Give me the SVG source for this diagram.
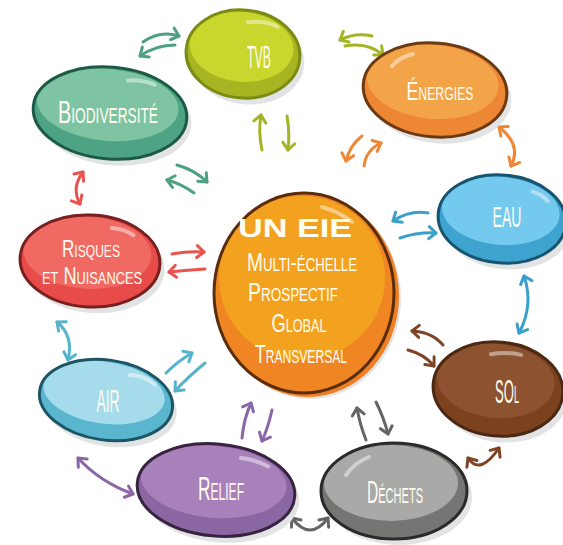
<svg xmlns="http://www.w3.org/2000/svg" width="563" height="545" viewBox="0 0 563 545">
<style>
.shadow{fill:#e2e3e4}
.ol{fill:none;stroke-width:3}
.hl{fill:none;stroke:#ffffff;stroke-opacity:0.45;stroke-width:4;stroke-linecap:round}
.lbl{font-family:"Liberation Sans",Arial,sans-serif;font-variant:small-caps;fill:#fffdf2;text-anchor:middle}
.big{font-family:"Liberation Sans",Arial,sans-serif;font-weight:bold;fill:#fffdf2;text-anchor:middle}
.a{fill:none;stroke-width:3;stroke-linecap:round}
</style>
<defs>
<marker id="h-teal" viewBox="-10 -10 20 20" markerWidth="20" markerHeight="20" markerUnits="userSpaceOnUse" orient="auto-start-reverse"><path d="M-7,-6 L0,0 L-7,6" fill="none" stroke="#4ca181" stroke-width="3" stroke-linecap="round" stroke-linejoin="round"/></marker>
<marker id="h-olive" viewBox="-10 -10 20 20" markerWidth="20" markerHeight="20" markerUnits="userSpaceOnUse" orient="auto-start-reverse"><path d="M-7,-6 L0,0 L-7,6" fill="none" stroke="#a4b424" stroke-width="3" stroke-linecap="round" stroke-linejoin="round"/></marker>
<marker id="h-orange" viewBox="-10 -10 20 20" markerWidth="20" markerHeight="20" markerUnits="userSpaceOnUse" orient="auto-start-reverse"><path d="M-7,-6 L0,0 L-7,6" fill="none" stroke="#ee8634" stroke-width="3" stroke-linecap="round" stroke-linejoin="round"/></marker>
<marker id="h-blue" viewBox="-10 -10 20 20" markerWidth="20" markerHeight="20" markerUnits="userSpaceOnUse" orient="auto-start-reverse"><path d="M-7,-6 L0,0 L-7,6" fill="none" stroke="#3aa0cb" stroke-width="3" stroke-linecap="round" stroke-linejoin="round"/></marker>
<marker id="h-brown" viewBox="-10 -10 20 20" markerWidth="20" markerHeight="20" markerUnits="userSpaceOnUse" orient="auto-start-reverse"><path d="M-7,-6 L0,0 L-7,6" fill="none" stroke="#7d4426" stroke-width="3" stroke-linecap="round" stroke-linejoin="round"/></marker>
<marker id="h-gray" viewBox="-10 -10 20 20" markerWidth="20" markerHeight="20" markerUnits="userSpaceOnUse" orient="auto-start-reverse"><path d="M-7,-6 L0,0 L-7,6" fill="none" stroke="#646462" stroke-width="3" stroke-linecap="round" stroke-linejoin="round"/></marker>
<marker id="h-purple" viewBox="-10 -10 20 20" markerWidth="20" markerHeight="20" markerUnits="userSpaceOnUse" orient="auto-start-reverse"><path d="M-7,-6 L0,0 L-7,6" fill="none" stroke="#8a66a6" stroke-width="3" stroke-linecap="round" stroke-linejoin="round"/></marker>
<marker id="h-lblue" viewBox="-10 -10 20 20" markerWidth="20" markerHeight="20" markerUnits="userSpaceOnUse" orient="auto-start-reverse"><path d="M-7,-6 L0,0 L-7,6" fill="none" stroke="#55b4cb" stroke-width="3" stroke-linecap="round" stroke-linejoin="round"/></marker>
<marker id="h-red" viewBox="-10 -10 20 20" markerWidth="20" markerHeight="20" markerUnits="userSpaceOnUse" orient="auto-start-reverse"><path d="M-7,-6 L0,0 L-7,6" fill="none" stroke="#e9534e" stroke-width="3" stroke-linecap="round" stroke-linejoin="round"/></marker>
</defs>
<rect width="563" height="545" fill="#ffffff"/>

<g id="connectors">
<path class="a" stroke="#4ca181" marker-end="url(#h-teal)" d="M143,42 Q160,30 179,36"/>
<path class="a" stroke="#4ca181" marker-end="url(#h-teal)" d="M175,45 Q156,45 140,56"/>
<path class="a" stroke="#a4b424" marker-end="url(#h-olive)" d="M262,150 Q258,132 261,115"/>
<path class="a" stroke="#a4b424" marker-end="url(#h-olive)" d="M287,116 Q290,133 288,150"/>
<path class="a" stroke="#a4b424" marker-end="url(#h-olive)" d="M372,36 Q355,32 340,40"/>
<path class="a" stroke="#a4b424" marker-end="url(#h-olive)" d="M345,46 Q368,42 383,55"/>
<path class="a" stroke="#ee8634" marker-end="url(#h-orange)" d="M364,166 Q366,150 381,143"/>
<path class="a" stroke="#ee8634" marker-end="url(#h-orange)" d="M362,136 Q350,145 346,161"/>
<path class="a" stroke="#ee8634" marker-start="url(#h-orange)" marker-end="url(#h-orange)" d="M499,127 Q522,145 511,166"/>
<path class="a" stroke="#3aa0cb" marker-end="url(#h-blue)" d="M428,213 Q410,210 393,221"/>
<path class="a" stroke="#3aa0cb" marker-end="url(#h-blue)" d="M400,238 Q418,232 436,233"/>
<path class="a" stroke="#3aa0cb" marker-start="url(#h-blue)" marker-end="url(#h-blue)" d="M524,276 Q534,305 519,333"/>
<path class="a" stroke="#7d4426" marker-end="url(#h-brown)" d="M443,345 Q432,332 412,331"/>
<path class="a" stroke="#7d4426" marker-end="url(#h-brown)" d="M408,350 Q424,354 434,366"/>
<path class="a" stroke="#7d4426" marker-start="url(#h-brown)" marker-end="url(#h-brown)" d="M468,458 Q480,476 499,448"/>
<path class="a" stroke="#646462" marker-start="url(#h-gray)" marker-end="url(#h-gray)" d="M292,518 Q310,542 328,518"/>
<path class="a" stroke="#646462" marker-end="url(#h-gray)" d="M366,440 Q360,425 357,408"/>
<path class="a" stroke="#646462" marker-end="url(#h-gray)" d="M376,402 Q384,418 388,434"/>
<path class="a" stroke="#8a66a6" marker-end="url(#h-purple)" d="M242,438 Q244,418 251,403"/>
<path class="a" stroke="#8a66a6" marker-end="url(#h-purple)" d="M272,410 Q268,428 262,441"/>
<path class="a" stroke="#8a66a6" marker-start="url(#h-purple)" marker-end="url(#h-purple)" d="M78,458 Q100,482 133,494"/>
<path class="a" stroke="#55b4cb" marker-end="url(#h-lblue)" d="M166,373 Q178,361 192,353"/>
<path class="a" stroke="#55b4cb" marker-end="url(#h-lblue)" d="M205,363 Q188,377 175,391"/>
<path class="a" stroke="#55b4cb" marker-start="url(#h-lblue)" marker-end="url(#h-lblue)" d="M57,322 Q74,336 68,360"/>
<path class="a" stroke="#e9534e" marker-end="url(#h-red)" d="M172,254 Q188,251 204,252"/>
<path class="a" stroke="#e9534e" marker-end="url(#h-red)" d="M205,269 Q188,270 169,272"/>
<path class="a" stroke="#e9534e" marker-start="url(#h-red)" marker-end="url(#h-red)" d="M83,172 Q71,188 80,204"/>
<path class="a" stroke="#4ca181" marker-end="url(#h-teal)" d="M177,165 Q195,170 207,182"/>
<path class="a" stroke="#4ca181" marker-end="url(#h-teal)" d="M194,193 Q180,183 167,180"/>
</g>

<g id="n-center">
<ellipse class="shadow" cx="310" cy="298" rx="91" ry="101"/>
<ellipse cx="308" cy="296" rx="91" ry="101" fill="#ee7f22"/>
<ellipse cx="304" cy="293" rx="90" ry="100" fill="#f08623"/>
<ellipse cx="302" cy="278" rx="83" ry="82" fill="#f3a21f"/>
<ellipse cx="304" cy="293" rx="90" ry="100" class="ol" stroke="#5a2c0c" stroke-width="3.5"/>
<path class="hl" d="M322,207 Q340,212 352,222"/>
<text class="big" x="295" y="237" font-size="26" textLength="114" lengthAdjust="spacingAndGlyphs">UN EIE</text>
<text class="lbl" x="302" y="271" font-size="26" textLength="110" lengthAdjust="spacingAndGlyphs">Multi-échelle</text>
<text class="lbl" x="293" y="301" font-size="26" textLength="90" lengthAdjust="spacingAndGlyphs">Prospectif</text>
<text class="lbl" x="299" y="332" font-size="26" textLength="55" lengthAdjust="spacingAndGlyphs">Global</text>
<text class="lbl" x="301" y="363" font-size="26" textLength="92" lengthAdjust="spacingAndGlyphs">Transversal</text>
</g>

<g id="n-tvb">
<g transform="translate(243,54) rotate(5)">
<ellipse class="shadow" cx="5" cy="6" rx="57" ry="44"/>
<ellipse rx="57" ry="44" fill="#a6b521"/>
<ellipse cx="-2" cy="-7" rx="52" ry="35" fill="#c8d62e"/>
<ellipse rx="57" ry="44" class="ol" stroke="#7c8b14"/>
<path class="hl" d="M2,-32 Q20,-36 32,-30"/>
</g>
<text class="lbl" x="259" y="68" font-size="32" textLength="24" lengthAdjust="spacingAndGlyphs">TVB</text>
</g>

<g id="n-energies">
<g transform="translate(435,90) rotate(5)">
<ellipse class="shadow" cx="5" cy="6" rx="72" ry="47"/>
<ellipse rx="72" ry="47" fill="#ee8733"/>
<ellipse cx="-3" cy="-8" rx="66" ry="37" fill="#f3a449"/>
<ellipse rx="72" ry="47" class="ol" stroke="#6b3a12"/>
<path class="hl" d="M-45,-20 Q-38,-30 -25,-34"/>
</g>
<text class="lbl" x="440" y="100" font-size="26" textLength="67" lengthAdjust="spacingAndGlyphs">Énergies</text>
</g>

<g id="n-eau">
<g transform="translate(502,219) rotate(5)">
<ellipse class="shadow" cx="5" cy="6" rx="64" ry="44"/>
<ellipse rx="64" ry="44" fill="#3ea3cf"/>
<ellipse cx="-2" cy="-8" rx="59" ry="34" fill="#74c9ee"/>
<ellipse rx="64" ry="44" class="ol" stroke="#17546f"/>
<path class="hl" d="M28,-30 Q38,-28 44,-22"/>
</g>
<text class="lbl" x="507" y="227" font-size="30" textLength="29" lengthAdjust="spacingAndGlyphs">EAU</text>
</g>

<g id="n-biodiversite">
<g transform="translate(110,113) rotate(5)">
<ellipse class="shadow" cx="5" cy="6" rx="77" ry="46"/>
<ellipse rx="77" ry="46" fill="#4da383"/>
<ellipse cx="-3" cy="-8" rx="71" ry="36" fill="#7fc4a2"/>
<ellipse rx="77" ry="46" class="ol" stroke="#1d5a45"/>
<path class="hl" d="M15,-34 Q30,-36 42,-32"/>
</g>
<text class="lbl" x="108" y="123" font-size="32" textLength="100" lengthAdjust="spacingAndGlyphs">Biodiversité</text>
</g>

<g id="n-risques">
<g transform="translate(90,261) rotate(3)">
<ellipse class="shadow" cx="5" cy="6" rx="70" ry="46"/>
<ellipse rx="70" ry="46" fill="#e74c4a"/>
<ellipse cx="-3" cy="-8" rx="64" ry="36" fill="#f06a63"/>
<ellipse rx="70" ry="46" class="ol" stroke="#781f1f"/>
<path class="hl" d="M20,-34 Q32,-34 42,-28"/>
</g>
<text class="lbl" x="91" y="257" font-size="24" textLength="58" lengthAdjust="spacingAndGlyphs">Risques</text>
<text class="lbl" x="92" y="284" font-size="24" textLength="100" lengthAdjust="spacingAndGlyphs">et Nuisances</text>
</g>

<g id="n-air">
<g transform="translate(106,400) rotate(8)">
<ellipse class="shadow" cx="5" cy="6" rx="67" ry="40"/>
<ellipse rx="67" ry="40" fill="#5ab6ce"/>
<ellipse cx="-3" cy="-7" rx="61" ry="31" fill="#a6dbec"/>
<ellipse rx="67" ry="40" class="ol" stroke="#1d5565"/>
<path class="hl" d="M20,-28 Q34,-30 46,-22"/>
</g>
<text class="lbl" x="108" y="412" font-size="32" textLength="23" lengthAdjust="spacingAndGlyphs">AIR</text>
</g>

<g id="n-relief">
<g transform="translate(216,490) rotate(5)">
<ellipse class="shadow" cx="5" cy="6" rx="79" ry="46"/>
<ellipse rx="79" ry="46" fill="#8a66a2"/>
<ellipse cx="-3" cy="-8" rx="73" ry="36" fill="#a881bb"/>
<ellipse rx="79" ry="46" class="ol" stroke="#37233f"/>
<path class="hl" d="M22,-34 Q36,-34 50,-28"/>
</g>
<text class="lbl" x="221" y="500" font-size="33" textLength="46" lengthAdjust="spacingAndGlyphs">Relief</text>
</g>

<g id="n-dechets">
<g transform="translate(394,491)">
<ellipse class="shadow" cx="5" cy="6" rx="73" ry="48"/>
<ellipse rx="73" ry="48" fill="#757573"/>
<ellipse cx="-3" cy="-8" rx="67" ry="38" fill="#a9a9a7"/>
<ellipse rx="73" ry="48" class="ol" stroke="#2a2a2a"/>
<path class="hl" d="M-48,-16 Q-40,-28 -25,-34"/>
</g>
<text class="lbl" x="395" y="503" font-size="31" textLength="56" lengthAdjust="spacingAndGlyphs">Déchets</text>
</g>

<g id="n-sol">
<g transform="translate(498,389) rotate(5)">
<ellipse class="shadow" cx="5" cy="6" rx="65" ry="47"/>
<ellipse rx="65" ry="47" fill="#7c421f"/>
<ellipse cx="-3" cy="-8" rx="59" ry="37" fill="#8d522f"/>
<ellipse rx="65" ry="47" class="ol" stroke="#4b2812"/>
<path class="hl" d="M-10,-34 Q4,-38 20,-36"/>
</g>
<text class="lbl" x="507" y="403" font-size="33" textLength="24" lengthAdjust="spacingAndGlyphs">SOl</text>
</g>
</svg>
